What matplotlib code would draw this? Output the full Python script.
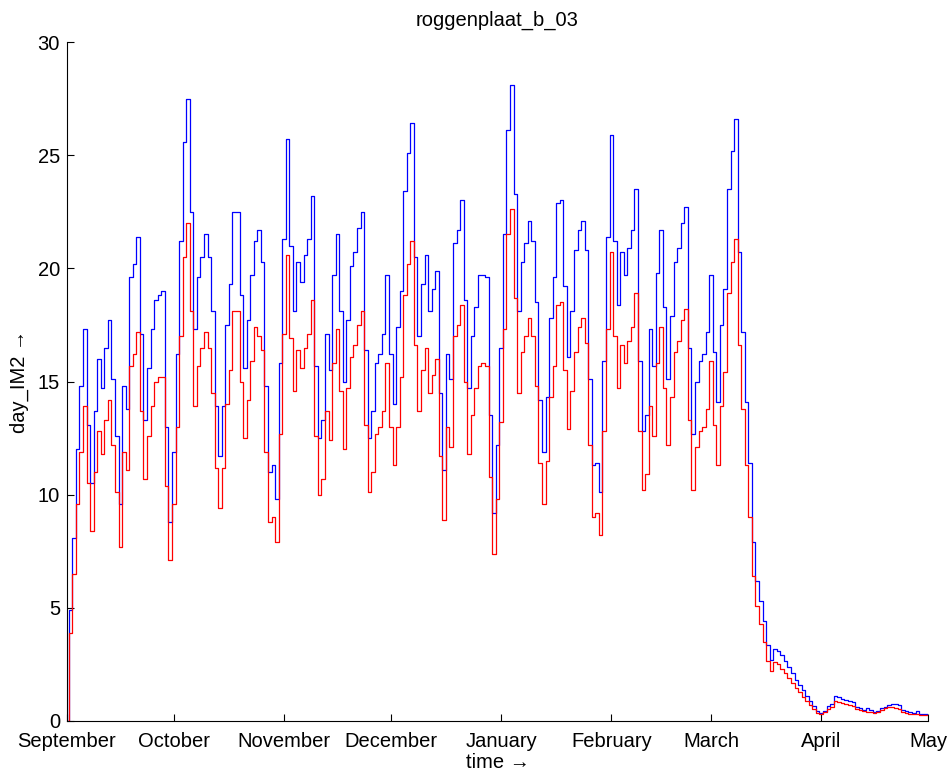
import numpy as np
import matplotlib
matplotlib.use("Agg")
import matplotlib.pyplot as plt

plt.rcParams['font.family'] = ['Liberation Sans', 'DejaVu Sans']

# daily values (1 Sep .. 30 Apr)
blue_vals = [
    4.9, 8.1, 12.0, 14.8, 17.3, 13.1, 10.5, 13.7, 16.0, 14.7,
    16.5, 17.7, 15.1, 12.6, 9.6, 14.8, 13.8, 19.6, 20.2, 21.4,
    17.1, 13.3, 15.6, 17.3, 18.6, 18.8, 19.0, 13.0, 8.8,
    11.9, 16.2, 21.2, 25.6, 27.5, 22.5, 17.3, 19.6, 20.5, 21.5,
    20.5, 18.1, 13.9, 11.7, 13.9, 17.5, 19.3, 22.5, 22.5, 18.8,
    15.6, 17.7, 19.7, 21.2, 21.7, 20.3, 14.8, 11.0, 11.3, 9.8, 15.8,
    21.3, 25.7, 21.0, 18.1, 20.3, 19.4, 20.6, 21.3, 23.2, 15.7,
    12.5, 13.3, 17.1, 15.5, 19.7, 21.5, 18.1, 15.0, 17.7, 20.1,
    20.7, 21.8, 22.5, 16.4, 12.5, 13.7, 15.8, 16.2, 17.1, 19.7,
    16.2, 14.0, 17.4, 19.0, 23.4, 25.1, 26.4, 20.5, 17.0, 19.3,
    20.6, 18.1, 19.1, 19.9, 14.5, 11.1, 16.2, 15.1, 21.1, 21.7,
    23.0, 18.6, 14.7, 17.0, 18.3, 19.7, 19.7, 19.6, 13.5, 9.2, 12.2, 16.5,
    21.5, 26.1, 28.1, 23.3, 18.1, 20.3, 21.1, 22.1, 21.2, 18.5,
    14.2, 11.9, 14.3, 17.8, 19.6, 22.9, 23.0, 19.2, 16.1, 18.1,
    20.8, 21.7, 22.1, 20.8, 15.1, 11.3, 11.4, 10.1, 15.9, 21.4, 25.9,
    21.2, 18.4, 20.7, 19.7, 20.9, 21.7, 23.5, 15.9, 12.8, 13.5,
    17.3, 15.7, 19.8, 21.7, 18.3, 15.1, 17.9, 20.3, 20.9, 22.0,
    22.7, 16.5, 12.7, 15.0, 15.9, 16.2, 17.2, 19.7, 16.3, 14.1, 17.5, 19.1,
    23.5, 25.2, 26.6, 20.7, 17.2, 14.1, 11.4, 7.9, 6.2, 5.3,
    4.4, 3.35, 2.7, 3.2, 3.1, 2.9, 2.65, 2.4, 2.1, 1.8,
    1.6, 1.35, 1.1, 0.9, 0.65, 0.46, 0.37, 0.46, 0.65,
    0.75, 1.12, 1.07, 0.97, 0.93, 0.88, 0.82, 0.6, 0.56, 0.49,
    0.56, 0.49, 0.41, 0.44, 0.56, 0.63, 0.7, 0.74, 0.74, 0.7,
    0.49, 0.44, 0.38, 0.34, 0.44, 0.3, 0.3,
]

red_vals = [
    3.9, 6.5, 9.6, 11.9, 13.9, 10.5, 8.4, 11.0, 12.8, 11.8,
    13.3, 14.2, 12.2, 10.1, 7.7, 11.9, 11.1, 15.7, 16.2, 17.2,
    13.7, 10.7, 12.6, 13.9, 15.0, 15.2, 15.2, 10.4, 7.1,
    9.6, 13.0, 17.0, 20.5, 22.0, 18.1, 13.9, 15.7, 16.5, 17.2,
    16.5, 14.5, 11.2, 9.4, 11.2, 14.0, 15.5, 18.1, 18.1, 15.0,
    12.5, 14.2, 15.9, 17.4, 17.0, 16.4, 11.9, 8.8, 9.0, 7.9, 12.7,
    17.1, 20.6, 16.9, 14.6, 16.4, 15.6, 16.5, 17.1, 18.6, 12.6,
    10.0, 10.7, 13.7, 12.4, 15.8, 17.3, 14.6, 12.0, 14.7, 16.1,
    16.6, 17.5, 18.1, 13.1, 10.1, 11.0, 12.7, 13.0, 13.7, 15.8,
    13.0, 11.3, 13.0, 15.2, 18.8, 20.2, 21.2, 16.6, 13.7, 15.5,
    16.5, 14.5, 15.3, 16.0, 11.7, 8.9, 13.0, 12.1, 17.0, 17.5,
    18.4, 15.0, 11.8, 13.5, 14.7, 15.7, 15.8, 15.7, 10.8, 7.4, 9.8, 13.2,
    17.3, 21.5, 22.6, 18.7, 14.5, 16.3, 17.0, 17.8, 17.0, 14.8,
    11.4, 9.6, 11.5, 14.3, 15.7, 18.4, 18.5, 15.5, 12.9, 14.6,
    16.3, 17.4, 17.8, 16.7, 12.2, 9.0, 9.2, 8.2, 12.8, 17.3, 20.7,
    17.0, 14.7, 16.6, 15.8, 16.8, 17.4, 18.9, 12.8, 10.2, 10.9,
    13.9, 12.6, 15.8, 17.4, 14.7, 12.2, 14.3, 16.3, 16.8, 17.7,
    18.2, 13.3, 10.2, 12.1, 12.8, 13.0, 13.8, 15.9, 13.1, 11.3, 13.9, 15.4,
    18.9, 20.3, 21.3, 16.6, 13.8, 11.3, 9.0, 6.4, 5.1, 4.3,
    3.5, 2.65, 2.2, 2.6, 2.5, 2.3, 2.1, 1.9, 1.7, 1.45,
    1.26, 1.07, 0.87, 0.7, 0.52, 0.37, 0.33, 0.4, 0.55,
    0.6, 0.9, 0.82, 0.79, 0.74, 0.7, 0.66, 0.53, 0.49, 0.44,
    0.41, 0.41, 0.37, 0.41, 0.49, 0.56, 0.6, 0.6, 0.58, 0.53,
    0.41, 0.37, 0.31, 0.29, 0.3, 0.27, 0.27,
]

month_labels = ['September', 'October', 'November', 'December', 'January',
                'February', 'March', 'April', 'May']
month_days = [0, 30, 61, 91, 122, 153, 181, 212, 242]

n = len(blue_vals)
# time in days since 1 Sep; series starts from zero at t=0
t = np.concatenate([[0.0], np.arange(n) + 0.5, [month_days[-1]]])
blue = np.concatenate([[0.0], blue_vals, [blue_vals[-1]]])
red = np.concatenate([[0.0], red_vals, [red_vals[-1]]])

fig = plt.figure(figsize=(9.48, 7.74), dpi=100)
ax = fig.add_axes([67/948, 1-721/774, (928-67)/948, (721-42)/774])

ax.step(t, blue, where='post', color='#0000ff', lw=0.9)
ax.step(t, red, where='post', color='#ff0000', lw=0.9)

ax.set_xlim(0, month_days[-1])
ax.set_ylim(0, 30)
ax.set_xticks(month_days)
ax.set_xticklabels(month_labels)
ax.set_yticks(range(0, 31, 5))
ax.tick_params(direction='in', labelsize=14.5, length=5)
ax.tick_params(axis='x', pad=8)
ax.tick_params(axis='y', pad=5)
for s in ['top', 'right']:
    ax.spines[s].set_visible(False)

ax.set_title('roggenplaat_b_03', fontsize=14.5, pad=12)
ax.set_xlabel('time \u2192', fontsize=14.5, labelpad=1)
ax.set_ylabel('day_IM2 \u2192', fontsize=14.5, labelpad=6)

fig.savefig('out.png', dpi=100)
